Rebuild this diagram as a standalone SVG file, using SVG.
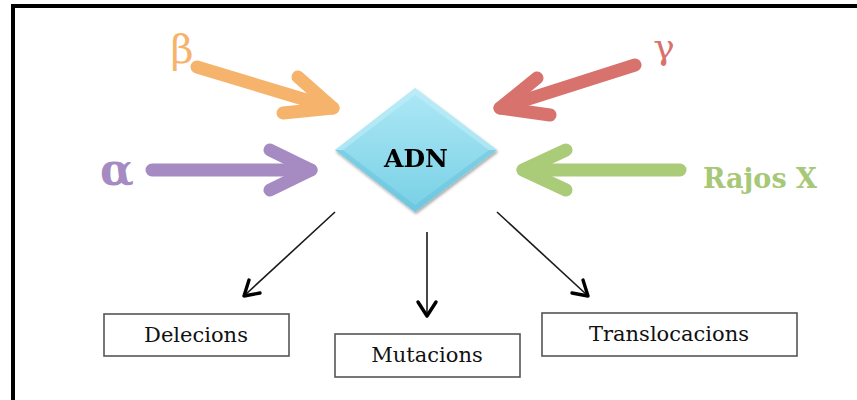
<svg xmlns="http://www.w3.org/2000/svg" width="857" height="400" viewBox="0 0 857 400">
<style>
.frame{fill:none;stroke:#000;stroke-width:4}
.thick{fill:none;stroke-width:13;stroke-linecap:round;stroke-linejoin:round}
.thin{fill:none;stroke:#1a1a1a;stroke-width:1.6}
.head{fill:none;stroke:#000;stroke-width:3.4;stroke-linecap:round;stroke-linejoin:round}
.box{fill:#fff;stroke:#555;stroke-width:1.6}
.lbl{font-family:"DejaVu Serif","Liberation Serif",serif;font-size:21px;fill:#111;text-anchor:middle}
.greek{font-family:"DejaVu Serif","Liberation Serif",serif;text-anchor:middle}
</style>
<defs>
<linearGradient id="dg" x1="0" y1="0" x2="0" y2="1">
<stop offset="0" stop-color="#aee8f6"/>
<stop offset="1" stop-color="#78d0e5"/>
</linearGradient>
<filter id="sh" x="-20%" y="-20%" width="140%" height="140%">
<feGaussianBlur in="SourceAlpha" stdDeviation="1.5"/>
<feOffset dx="1" dy="2"/>
<feComponentTransfer><feFuncA type="linear" slope="0.35"/></feComponentTransfer>
<feMerge><feMergeNode/><feMergeNode in="SourceGraphic"/></feMerge>
</filter>
</defs>
<rect x="0" y="0" width="857" height="400" fill="#fff"/>
<rect class="frame" x="13" y="6" width="870" height="420"/>

<g id="connectors">
<g id="arrow-beta" stroke="#f6b36c" class="thick">
<path d="M197,67 L333,108"/>
<path d="M298,77 L333,108 L283,113"/>
</g>
<g id="arrow-alpha" stroke="#a68bc3" class="thick">
<path d="M152,170 L311,170"/>
<path d="M270,150 L311,170 L270,190"/>
</g>
<g id="arrow-gamma" stroke="#d8726d" class="thick">
<path d="M635,65 L500,108"/>
<path d="M537,78 L500,108 L550,115"/>
</g>
<g id="arrow-x" stroke="#aacb78" class="thick">
<path d="M680,170 L523,170"/>
<path d="M566,150 L523,170 L566,190"/>
</g>
<g id="arrow-del">
<path class="thin" d="M335,212 L245,295"/>
<path class="head" d="M249,280 L244,296 L260,293"/>
</g>
<g id="arrow-mut">
<path class="thin" d="M427,232 L427,315"/>
<path class="head" d="M418,302 L427,316 L436,302"/>
</g>
<g id="arrow-trans">
<path class="thin" d="M497,212 L587,295"/>
<path class="head" d="M572,293 L588,296 L583,280"/>
</g>
</g>

<g id="adn" filter="url(#sh)">
<path d="M415,88 L497,150 L415,212 L335,150 Z" fill="url(#dg)"/>
<path d="M415,88 L497,150 L489,150 L415,95 L343,150 L335,150 Z" fill="#c8f0fa" opacity="0.5"/>
<path d="M335,150 L343,150 L415,205 L489,150 L497,150 L415,212 Z" fill="#5fbcd6" opacity="0.4"/>
<text x="416" y="167" font-family="DejaVu Serif, Liberation Serif, serif" font-weight="bold" font-size="25" text-anchor="middle" fill="#000">ADN</text>
</g>

<g id="alpha"><text class="greek" x="117" y="185" font-size="44" font-weight="bold" fill="#a68bc3">α</text></g>
<g id="beta"><text class="greek" x="182" y="63" font-size="40" fill="#f6b36c">β</text></g>
<g id="gamma"><text class="greek" x="664" y="59" font-size="36" fill="#d8726d">γ</text></g>
<g id="rajos"><text x="760" y="188" font-family="DejaVu Serif, Liberation Serif, serif" font-weight="bold" font-size="27" text-anchor="middle" fill="#a6c877">Rajos X</text></g>

<g id="delecions">
<rect class="box" x="104" y="314" width="185" height="42"/>
<text class="lbl" x="196" y="342">Delecions</text>
</g>
<g id="mutacions">
<rect class="box" x="335" y="334" width="185" height="43"/>
<text class="lbl" x="427" y="362">Mutacions</text>
</g>
<g id="translocacions">
<rect class="box" x="542" y="313" width="255" height="43"/>
<text class="lbl" x="669" y="341" font-size="21.5">Translocacions</text>
</g>
</svg>
